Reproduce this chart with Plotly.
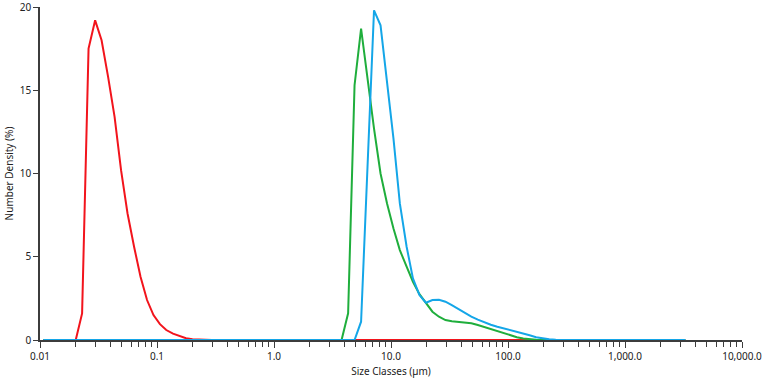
"""Particle size distribution (number density) for three samples."""

import plotly.graph_objects as go

# Size class midpoints (um), log-spaced analyser bins
size_classes = [
    0.0107, 0.0121, 0.0138, 0.0157, 0.0178, 0.0202, 0.0229, 0.0260, 0.0296, 0.0336,
    0.0382, 0.0434, 0.0493, 0.0560, 0.0637, 0.0723, 0.0822, 0.0933, 0.106, 0.120,
    0.137, 0.156, 0.177, 0.201, 0.228, 0.259, 0.294, 0.335, 0.380, 0.432,
    0.490, 0.557, 0.633, 0.719, 0.818, 0.929, 1.06, 1.20, 1.36, 1.55,
    1.76, 2.00, 2.27, 2.58, 2.93, 3.33, 3.78, 4.30, 4.88, 5.55,
    6.31, 7.16, 8.14, 9.25, 10.5, 11.9, 13.6, 15.4, 17.5, 19.9,
    22.6, 25.7, 29.2, 33.1, 37.6, 42.8, 48.6, 55.2, 62.7, 71.3,
    81.0, 92.1, 104, 119, 135, 153, 174, 198, 225, 256,
    290, 330, 375, 426, 484, 550, 625, 710, 806, 916,
    1040, 1180, 1340, 1530, 1730, 1970, 2240, 2540, 2890, 3280,
]

# Number density (%) per class
red_density = [
    0, 0, 0, 0, 0, 0, 1.6, 17.5, 19.2, 18.0,
    15.8, 13.4, 10.2, 7.6, 5.6, 3.8, 2.4, 1.5, 0.95, 0.6,
    0.38, 0.22, 0.11, 0.05, 0.02, 0.008, 0, 0, 0, 0,
    0, 0, 0, 0, 0, 0, 0, 0, 0, 0,
    0, 0, 0, 0, 0, 0, 0, 0, 0, 0,
    0, 0, 0, 0, 0, 0, 0, 0, 0, 0,
    0, 0, 0, 0, 0, 0, 0, 0, 0, 0,
    0, 0, 0, 0, 0, 0, 0, 0, 0, 0,
    0, 0, 0, 0, 0, 0, 0, 0, 0, 0,
    0, 0, 0, 0, 0, 0, 0, 0, 0, 0,
]

green_density = [
    0, 0, 0, 0, 0, 0, 0, 0, 0, 0,
    0, 0, 0, 0, 0, 0, 0, 0, 0, 0,
    0, 0, 0, 0, 0, 0, 0, 0, 0, 0,
    0, 0, 0, 0, 0, 0, 0, 0, 0, 0,
    0, 0, 0, 0, 0, 0, 0, 1.6, 15.3, 18.7,
    15.6, 12.7, 10.0, 8.2, 6.7, 5.4, 4.4, 3.5, 2.75, 2.2,
    1.7, 1.4, 1.2, 1.12, 1.08, 1.05, 1.0, 0.9, 0.78, 0.64,
    0.5, 0.38, 0.27, 0.17, 0.09, 0.04, 0.015, 0.005, 0, 0,
    0, 0, 0, 0, 0, 0, 0, 0, 0, 0,
    0, 0, 0, 0, 0, 0, 0, 0, 0, 0,
]

blue_density = [
    0, 0, 0, 0, 0, 0, 0, 0, 0, 0,
    0, 0, 0, 0, 0, 0, 0, 0, 0, 0,
    0, 0, 0, 0, 0, 0, 0, 0, 0, 0,
    0, 0, 0, 0, 0, 0, 0, 0, 0, 0,
    0, 0, 0, 0, 0, 0, 0, 0, 0, 1.1,
    10.5, 19.8, 18.9, 15.6, 12.1, 8.2, 5.6, 3.7, 2.7, 2.24,
    2.4, 2.42, 2.3, 2.1, 1.85, 1.6, 1.4, 1.22, 1.05, 0.92,
    0.8, 0.7, 0.62, 0.52, 0.4, 0.28, 0.17, 0.09, 0.04, 0.015,
    0.005, 0, 0, 0, 0, 0, 0, 0, 0, 0,
    0, 0, 0, 0, 0, 0, 0, 0, 0, 0,
]

x_tick_vals = [0.01, 0.1, 1, 10, 100, 1000, 10000]
x_tick_text = ["0.01", "0.1", "1.0", "10.0", "100.0", "1,000.0", "10,000.0"]
y_tick_vals = [0, 5, 10, 15, 20]

series = [
    ("Sample A", red_density, "#f2141c"),
    ("Sample B", green_density, "#1fae3c"),
    ("Sample C", blue_density, "#14a6e8"),
]

fig = go.Figure()
for name, values, colour in series:
    fig.add_trace(
        go.Scatter(
            x=size_classes,
            y=values,
            mode="lines",
            name=name,
            line={"color": colour, "width": 2},
            cliponaxis=False,
        )
    )

axis_colour = "#3c3c3c"
font_family = "Noto Sans, Open Sans, DejaVu Sans, sans-serif"

fig.update_layout(
    width=765,
    height=385,
    margin={"l": 40, "r": 23, "t": 7, "b": 45, "autoexpand": False},
    plot_bgcolor="white",
    paper_bgcolor="white",
    showlegend=False,
    font={"family": font_family, "size": 10, "color": "#222"},
)

fig.update_xaxes(
    type="log",
    range=[-2, 4],
    automargin=False,
    tickvals=x_tick_vals,
    ticktext=x_tick_text,
    ticklabeloverflow="allow",
    ticks="outside",
    ticklen=6,
    tickwidth=1.2,
    tickcolor=axis_colour,
    showline=True,
    linecolor=axis_colour,
    linewidth=1.5,
    showgrid=False,
    zeroline=False,
    minor={"ticks": "outside", "ticklen": 5, "dtick": "D1", "tickcolor": axis_colour, "showgrid": False},
    title={"text": "Size Classes (µm)", "standoff": 6, "font": {"size": 10}},
)

fig.update_yaxes(
    range=[0, 20],
    automargin=False,
    tickvals=y_tick_vals,
    ticklabeloverflow="allow",
    ticks="outside",
    ticklen=5,
    tickwidth=1.2,
    tickcolor=axis_colour,
    showline=True,
    linecolor=axis_colour,
    linewidth=1.5,
    showgrid=False,
    zeroline=False,
    title={"text": "Number Density (%)", "standoff": 4, "font": {"size": 10}},
)

# Drop the default page margin so the figure sits at the window's corner
fig.write_html(
    "out.html",
    config={"displayModeBar": False},
    post_script="document.body.style.margin = '0';",
)
